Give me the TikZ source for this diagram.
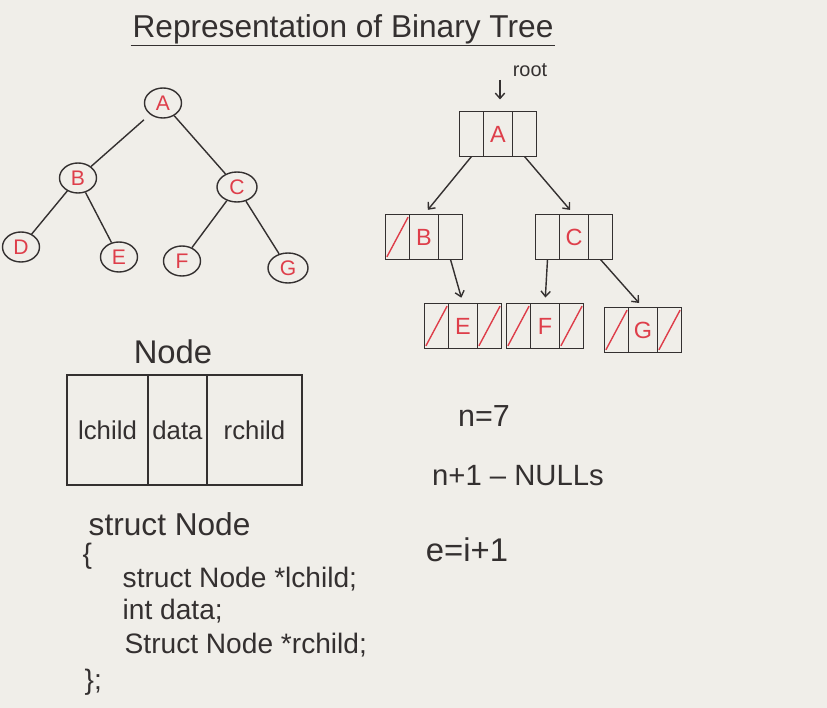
\documentclass[tikz,border=0pt]{standalone}
\usepackage{fontspec}
\setmainfont{Liberation Sans}
\usetikzlibrary{positioning,shapes.geometric,arrows.meta}
\definecolor{board}{RGB}{240,238,233}
\definecolor{ink}{RGB}{52,48,48}
\definecolor{redink}{RGB}{222,62,74}
\newcommand{\fs}[1]{\fontsize{#1}{#1}\selectfont}

\begin{document}
\begin{tikzpicture}[
    x=0.03cm, y=-0.03cm,
    color=ink,
    line width=1.2pt
  ]
\def\u{0.03cm}

\useasboundingbox (0,0) rectangle (827,708);
\fill[board] (0,0) rectangle (827,708);

\tikzstyle{tnode}=[ellipse,draw,minimum width=37*\u,minimum height=30*\u,inner sep=0pt,text=redink,font=\fs{18}]
\tikzstyle{cell}=[draw,minimum width=24*\u,minimum height=45*\u,inner sep=0pt,outer sep=0pt]
\tikzstyle{dcell}=[cell,minimum width=29*\u,text=redink,font=\fs{20}]
\tikzstyle{field}=[cell,minimum height=110*\u,font=\fs{22}]
\tikzstyle{ptr}=[-{Straight Barb[length=1.6mm,width=2.8mm]},shorten >=6*\u]
\tikzstyle{nil}=[redink,shorten <=3*\u,shorten >=3*\u]
\tikzstyle{code}=[anchor=west,inner sep=0pt,font=\fs{24}]

\node[font=\fs{27},inner sep=1pt] (title) at (343,29) {Representation of Binary Tree};
\draw (title.south west) -- (title.south east);

% tree
\node[tnode] (a) at (163,103) {A};
\node[tnode] (b) at (78,178) {B};
\node[tnode,minimum width=40*\u] (c) at (237,187) {C};
\node[tnode] (d) at (21,247) {D};
\node[tnode] (e) at (119,257) {E};
\node[tnode] (f) at (182,261) {F};
\node[tnode,minimum width=40*\u] (g) at (288,268) {G};

\draw[shorten <=8*\u] (a) -- (b);
\draw (a) -- (c);
\draw (b) -- (d);
\draw (b) -- (e);
\draw (c) -- (f);
\draw (c) -- (g);

% linked representation
\node[dcell] (la) at (498,134) {A};
\node[cell,left=0pt of la] (lal) {};
\node[cell,right=0pt of la] (lar) {};

\node[dcell] (lb) at (424,237) {B};
\node[cell,left=0pt of lb] (lbl) {};
\node[cell,right=0pt of lb] (lbr) {};

\node[dcell] (lc) at (574,237) {C};
\node[cell,left=0pt of lc] (lcl) {};
\node[cell,right=0pt of lc] (lcr) {};

\node[dcell] (le) at (463,326) {E};
\node[cell,left=0pt of le] (lel) {};
\node[cell,right=0pt of le] (ler) {};

\node[dcell] (lf) at (545,326) {F};
\node[cell,left=0pt of lf] (lfl) {};
\node[cell,right=0pt of lf] (lfr) {};

\node[dcell] (lg) at (643,330) {G};
\node[cell,left=0pt of lg] (lgl) {};
\node[cell,right=0pt of lg] (lgr) {};

\draw[nil] (lbl.south west) -- (lbl.north east);
\draw[nil] (lel.south west) -- (lel.north east);
\draw[nil] (ler.south west) -- (ler.north east);
\draw[nil] (lfl.south west) -- (lfl.north east);
\draw[nil] (lfr.south west) -- (lfr.north east);
\draw[nil] (lgl.south west) -- (lgl.north east);
\draw[nil] (lgr.south west) -- (lgr.north east);

\node[font=\fs{17}] (root) at (530,70) {root};
\coordinate (rt) at (500,80);
\draw[ptr,shorten >=12*\u] (rt) -- (rt |- la.north);

\draw[ptr] (lal.south) -- (lb.north);
\draw[ptr] (lar.south) -- (lc.north);
\draw[ptr] (lbr.south) -- (le.north);
\draw[ptr] (lcl.south) -- (lf.north);
\draw[ptr] (lcr.south) -- (lg.north);

% node structure
\node[font=\fs{28}] (nlabel) at (173,352) {Node};
\node[field,minimum width=81*\u] (lchild) at (107.5,430) {lchild};
\node[field,minimum width=59*\u,right=0pt of lchild] (data) {data};
\node[field,minimum width=95*\u,right=0pt of data] (rchild) {rchild};

\node[code,font=\fs{27}] (sname) at (88,524) {struct Node};
\node[code] (lbrace) at (82,556) {\{};
\node[code] (code1) at (122,579) {struct Node *lchild;};
\node[code] (code2) at (122,611) {int data;};
\node[code] (code3) at (124,645) {Struct Node *rchild;};
\node[code] (rbrace) at (84,682) {\};};

% counts
\node[font=\fs{26}] (eqn) at (484,416) {n=7};
\node[font=\fs{25}] (nulls) at (518,476) {n+1 – NULLs};
\node[font=\fs{28}] (eqe) at (467,550) {e=i+1};

\end{tikzpicture}
\end{document}
